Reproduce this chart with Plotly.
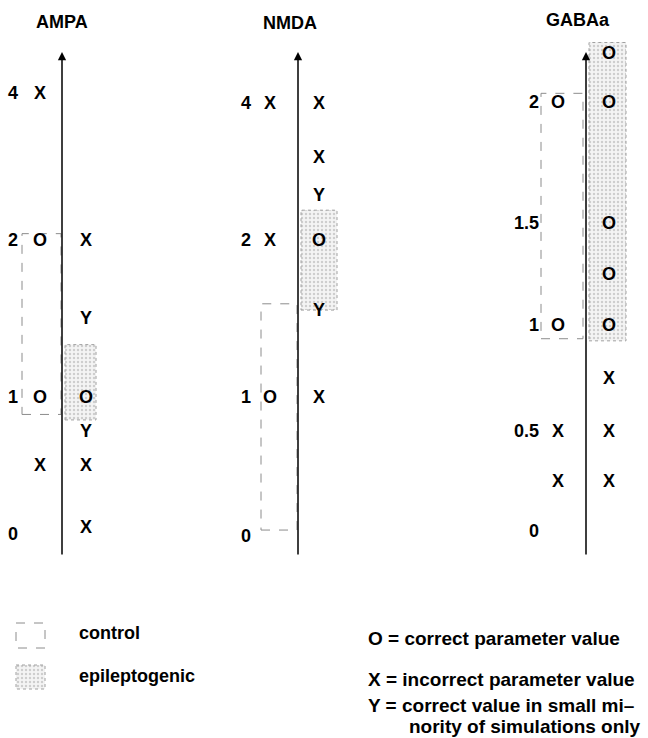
import numpy as np
import plotly.graph_objects as go

# ------------------------------------------------------------------ data
AMPA_TICKS = [0, 1, 2, 4]
AMPA_TICK_LABELS = ["0", "1", "2", "4"]
AMPA_LEFT_VALUES = [4, 2, 1, 0.5]
AMPA_LEFT_SYMBOLS = ["X", "O", "O", "X"]
AMPA_RIGHT_VALUES = [2, 1.5, 1, 0.75, 0.5, 0.05]
AMPA_RIGHT_SYMBOLS = ["X", "Y", "O", "Y", "X", "X"]
AMPA_CONTROL = [0.88, 2.1]
AMPA_EPILEPTOGENIC = [0.84, 1.34]

NMDA_TICKS = [0, 1, 2, 4]
NMDA_TICK_LABELS = ["0", "1", "2", "4"]
NMDA_LEFT_VALUES = [4, 2, 1]
NMDA_LEFT_SYMBOLS = ["X", "X", "O"]
NMDA_RIGHT_VALUES = [4, 3.2, 2.65, 2, 1.55, 1]
NMDA_RIGHT_SYMBOLS = ["X", "X", "Y", "O", "Y", "X"]
NMDA_CONTROL = [0.05, 1.6]
NMDA_EPILEPTOGENIC = [1.56, 2.45]

GABAA_TICKS = [0, 0.5, 1, 1.5, 2]
GABAA_TICK_LABELS = ["0", "0.5", "1", "1.5", "2"]
GABAA_LEFT_VALUES = [2, 1, 0.5, 0.25]
GABAA_LEFT_SYMBOLS = ["O", "O", "X", "X"]
GABAA_RIGHT_VALUES = [2.2, 2, 1.5, 1.25, 1, 0.75, 0.5, 0.25]
GABAA_RIGHT_SYMBOLS = ["O", "O", "O", "O", "O", "X", "X", "X"]
GABAA_CONTROL = [0.94, 2.04]
GABAA_EPILEPTOGENIC = [0.93, 2.25]

LEGEND_BOXES = ["control", "epileptogenic"]
LEGEND_SYMBOLS = [
    "O = correct parameter value",
    "X = incorrect parameter value",
    "Y = correct value in small mi\u2013",
]
LEGEND_CONTINUATION = "nority of simulations only"

# ------------------------------------------------------------------ layout / style
W, H = 648, 738
FONT = "Liberation Sans, Arial, Helvetica, sans-serif"
FSIZE = 18
LEGEND_FSIZE = 19
AXIS_TOP, AXIS_BOTTOM = 52, 556

PANELS = [
    dict(title="AMPA", title_x=62, title_y=22, axis_x=62, left_x=40, right_x=86,
         label_x=13, label_anchor="center", tick_px=[535, 398, 241, 94],
         ctrl_x=[22, 61], epi_x=[65, 96],
         ticks=AMPA_TICKS, labels=AMPA_TICK_LABELS,
         lv=AMPA_LEFT_VALUES, ls=AMPA_LEFT_SYMBOLS,
         rv=AMPA_RIGHT_VALUES, rs=AMPA_RIGHT_SYMBOLS,
         ctrl=AMPA_CONTROL, epi=AMPA_EPILEPTOGENIC),
    dict(title="NMDA", title_x=290, title_y=23, axis_x=298, left_x=270, right_x=319,
         label_x=246, label_anchor="center", tick_px=[537, 398, 241, 104],
         ctrl_x=[261, 297], epi_x=[301, 337],
         ticks=NMDA_TICKS, labels=NMDA_TICK_LABELS,
         lv=NMDA_LEFT_VALUES, ls=NMDA_LEFT_SYMBOLS,
         rv=NMDA_RIGHT_VALUES, rs=NMDA_RIGHT_SYMBOLS,
         ctrl=NMDA_CONTROL, epi=NMDA_EPILEPTOGENIC),
    dict(title="GABAa", title_x=578, title_y=20, axis_x=586, left_x=558, right_x=609,
         label_x=539, label_anchor="right", tick_px=[532, 432, 326, 224, 103],
         ctrl_x=[541, 583], epi_x=[589, 626],
         ticks=GABAA_TICKS, labels=GABAA_TICK_LABELS,
         lv=GABAA_LEFT_VALUES, ls=GABAA_LEFT_SYMBOLS,
         rv=GABAA_RIGHT_VALUES, rs=GABAA_RIGHT_SYMBOLS,
         ctrl=GABAA_CONTROL, epi=GABAA_EPILEPTOGENIC),
]


def to_px(vals, ticks, tick_px):
    """Piecewise-linear (nonlinear overall) scale of the drawn value axis."""
    v = np.asarray(vals, dtype=float)
    t = np.asarray(ticks, dtype=float)
    p = np.asarray(tick_px, dtype=float)
    y = np.interp(v, t, p)
    hi = v > t[-1]
    y[hi] = p[-1] + (v[hi] - t[-1]) * (p[-1] - p[-2]) / (t[-1] - t[-2])
    lo = v < t[0]
    y[lo] = p[0] + (v[lo] - t[0]) * (p[1] - p[0]) / (t[1] - t[0])
    return y


def rect_xy(x0, x1, y0, y1):
    return [x0, x1, x1, x0, x0], [y0, y0, y1, y1, y0]


CTRL_LINE = dict(color="#8c8c8c", width=1, dash="dash")
EPI_LINE = dict(color="#a0a0a0", width=1, dash="dot")
EPI_PATTERN = dict(shape=".", size=4, solidity=0.3, fgcolor="#a8a8a8", bgcolor="#f4f4f4")
TEXTFONT = dict(family=FONT, size=FSIZE, color="black", weight="bold")
LEGENDFONT = dict(family=FONT, size=LEGEND_FSIZE, color="black", weight="bold")

fig = go.Figure()
annotations = []

for P in PANELS:
    # epileptogenic range (stippled box)
    ye = to_px(P["epi"], P["ticks"], P["tick_px"])
    xs, ys = rect_xy(P["epi_x"][0], P["epi_x"][1], ye[0], ye[1])
    fig.add_trace(go.Scatter(x=xs, y=ys, mode="lines", fill="toself",
                             fillpattern=EPI_PATTERN, line=EPI_LINE,
                             hoverinfo="skip", showlegend=False))
    # control range (dashed box)
    yc = to_px(P["ctrl"], P["ticks"], P["tick_px"])
    xs, ys = rect_xy(P["ctrl_x"][0], P["ctrl_x"][1], yc[0], yc[1])
    fig.add_trace(go.Scatter(x=xs, y=ys, mode="lines", line=CTRL_LINE,
                             hoverinfo="skip", showlegend=False))
    # left / right symbol columns
    fig.add_trace(go.Scatter(x=[P["left_x"]] * len(P["lv"]),
                             y=to_px(P["lv"], P["ticks"], P["tick_px"]),
                             mode="text", text=P["ls"], textfont=TEXTFONT,
                             textposition="middle center", cliponaxis=False,
                             hoverinfo="skip", showlegend=False))
    fig.add_trace(go.Scatter(x=[P["right_x"]] * len(P["rv"]),
                             y=to_px(P["rv"], P["ticks"], P["tick_px"]),
                             mode="text", text=P["rs"], textfont=TEXTFONT,
                             textposition="middle center", cliponaxis=False,
                             hoverinfo="skip", showlegend=False))
    # tick labels
    tpos = "middle left" if P["label_anchor"] == "right" else "middle center"
    fig.add_trace(go.Scatter(x=[P["label_x"]] * len(P["ticks"]),
                             y=to_px(P["ticks"], P["ticks"], P["tick_px"]),
                             mode="text", text=P["labels"], textfont=TEXTFONT,
                             textposition=tpos, cliponaxis=False,
                             hoverinfo="skip", showlegend=False))
    # axis arrow
    annotations.append(dict(x=P["axis_x"], y=AXIS_TOP, ax=P["axis_x"], ay=AXIS_BOTTOM,
                            xref="x", yref="y", axref="x", ayref="y", text="",
                            showarrow=True, arrowhead=2, arrowsize=1.1,
                            arrowwidth=1.5, arrowcolor="black"))
    # title
    annotations.append(dict(x=P["title_x"], y=P["title_y"], xref="x", yref="y",
                            text=P["title"], showarrow=False, xanchor="center",
                            yanchor="middle", font=TEXTFONT))

# ------------------------------------------------------------------ legend
xs, ys = rect_xy(16, 45, 623, 648)
fig.add_trace(go.Scatter(x=xs, y=ys, mode="lines", line=CTRL_LINE,
                         hoverinfo="skip", showlegend=False))
xs, ys = rect_xy(16, 45, 665, 689)
fig.add_trace(go.Scatter(x=xs, y=ys, mode="lines", fill="toself",
                         fillpattern=EPI_PATTERN, line=EPI_LINE,
                         hoverinfo="skip", showlegend=False))
for label, yy in zip(LEGEND_BOXES, [633, 676]):
    annotations.append(dict(x=77, y=yy, xref="x", yref="y", text=label,
                            showarrow=False, xanchor="left", yanchor="middle",
                            font=TEXTFONT))
for label, yy in zip(LEGEND_SYMBOLS, [638, 679, 705]):
    annotations.append(dict(x=366, y=yy, xref="x", yref="y", text=label,
                            showarrow=False, xanchor="left", yanchor="middle",
                            font=LEGENDFONT))
annotations.append(dict(x=408, y=726, xref="x", yref="y", text=LEGEND_CONTINUATION,
                        showarrow=False, xanchor="left", yanchor="middle",
                        font=LEGENDFONT, borderpad=0))

fig.update_layout(
    width=W, height=H,
    margin=dict(l=0, r=0, t=0, b=0),
    paper_bgcolor="white", plot_bgcolor="white",
    xaxis=dict(range=[0, W], visible=False, fixedrange=True),
    yaxis=dict(range=[H, 0], visible=False, fixedrange=True),
    annotations=annotations,
    showlegend=False,
)

fig.write_html(
    "out.html",
    config={"displayModeBar": False},
    post_script="document.body.style.margin='0';document.body.style.overflow='hidden';",
)
